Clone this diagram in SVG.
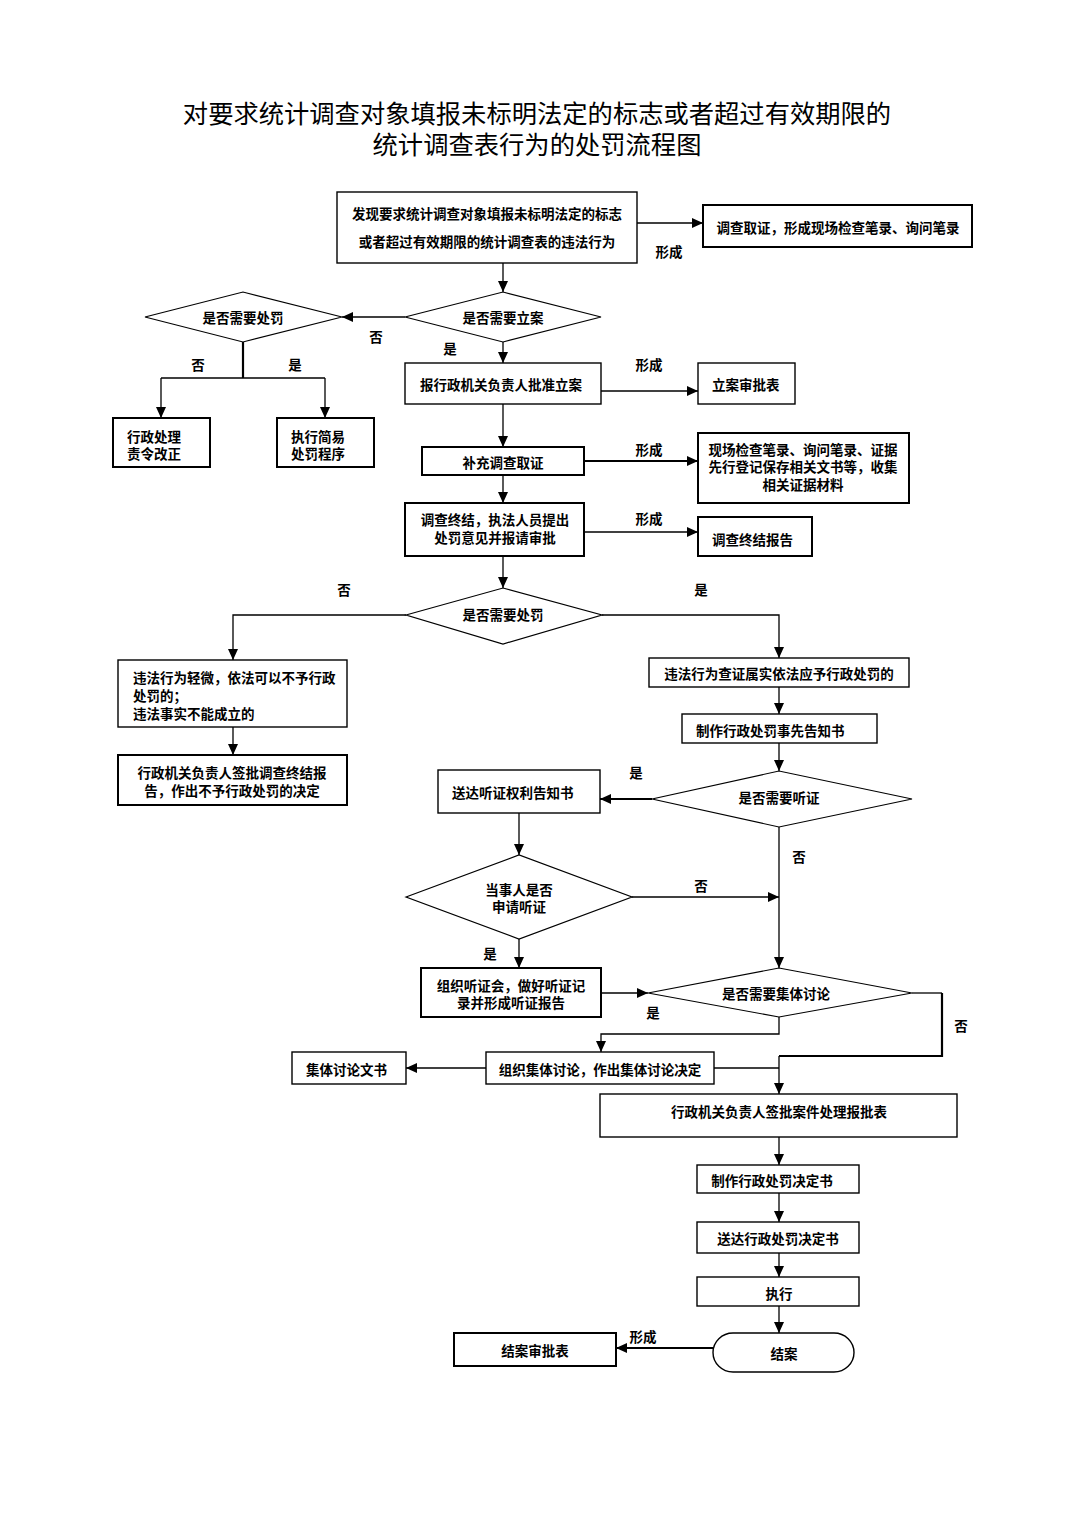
<svg xmlns="http://www.w3.org/2000/svg" width="1075" height="1520" viewBox="0 0 1075 1520">
<style>
.t{font-family:"Noto Sans CJK SC","Noto Sans",sans-serif;font-size:13.5px;font-weight:bold;fill:#000;dominant-baseline:central}
.m{text-anchor:middle}
.title{font-family:"Noto Sans CJK SC","Noto Sans",sans-serif;font-size:25.3px;fill:#000;text-anchor:middle}
.box{fill:#fff;stroke:#000;stroke-width:1.4}
.bx{fill:#fff;stroke:#000;stroke-width:2}
.dia{fill:#fff;stroke:#000;stroke-width:1.2}
.c{fill:none;stroke:#000;stroke-width:1.3}
.ck{fill:none;stroke:#000;stroke-width:2.2}
</style>
<defs>
<marker id="a" markerUnits="userSpaceOnUse" markerWidth="11" markerHeight="10" refX="11" refY="5" orient="auto">
<path d="M0,0 L11,5 L0,10 z" fill="#000"/>
</marker>
</defs>
<rect width="1075" height="1520" fill="#fff"/>
<text class="title"><tspan x="537" y="123">对要求统计调查对象填报未标明法定的标志或者超过有效期限的</tspan><tspan x="537" dy="31">统计调查表行为的处罚流程图</tspan></text>

<g id="connectors">
<path class="c" d="M637,223 H703" marker-end="url(#a)"/>
<path class="c" d="M503,263 V292" marker-end="url(#a)"/>
<path class="c" d="M405,317 H342" marker-end="url(#a)"/>
<path class="ck" d="M243,342 V378"/>
<path class="c" d="M161,378 H325"/>
<path class="c" d="M161,378 V418" marker-end="url(#a)"/>
<path class="c" d="M325,378 V418" marker-end="url(#a)"/>
<path class="c" d="M503,342 V363" marker-end="url(#a)"/>
<path class="c" d="M601,391 H698" marker-end="url(#a)"/>
<path class="c" d="M503,404 V447" marker-end="url(#a)"/>
<path class="ck" d="M584,461 H698" marker-end="url(#a)"/>
<path class="c" d="M503,475 V503" marker-end="url(#a)"/>
<path class="c" d="M584,532 H698" marker-end="url(#a)"/>
<path class="c" d="M503,556 V588" marker-end="url(#a)"/>
<path class="c" d="M406,615 H233 V660" marker-end="url(#a)"/>
<path class="c" d="M602,615 H779 V658" marker-end="url(#a)"/>
<path class="c" d="M233,727 V755" marker-end="url(#a)"/>
<path class="c" d="M779,687 V714" marker-end="url(#a)"/>
<path class="c" d="M779,743 V771" marker-end="url(#a)"/>
<path class="ck" d="M652,799 H600" marker-end="url(#a)"/>
<path class="c" d="M519,813 V855" marker-end="url(#a)"/>
<path class="c" d="M632,897 H779" marker-end="url(#a)"/>
<path class="c" d="M779,827 V968" marker-end="url(#a)"/>
<path class="c" d="M519,939 V968" marker-end="url(#a)"/>
<path class="c" d="M601,993 H648" marker-end="url(#a)"/>
<path class="c" d="M912,993 H942"/>
<path class="ck" d="M942,993 V1056 H779"/>
<path class="c" d="M779,1056 V1094" marker-end="url(#a)"/>
<path class="c" d="M779,1017 V1034 H601 V1052" marker-end="url(#a)"/>
<path class="c" d="M714,1068 H779"/>
<path class="c" d="M486,1068 H406" marker-end="url(#a)"/>
<path class="c" d="M779,1137 V1165" marker-end="url(#a)"/>
<path class="c" d="M779,1193 V1222" marker-end="url(#a)"/>
<path class="c" d="M779,1253 V1277" marker-end="url(#a)"/>
<path class="c" d="M779,1306 V1333" marker-end="url(#a)"/>
<path class="ck" d="M713,1348 H616" marker-end="url(#a)"/>
</g>

<g id="labels">
<text class="t m" x="669" y="251">形成</text>
<text class="t m" x="649" y="364">形成</text>
<text class="t m" x="649" y="449">形成</text>
<text class="t m" x="649" y="518">形成</text>
<text class="t m" x="643" y="1336">形成</text>
<text class="t m" x="376" y="336">否</text>
<text class="t m" x="198" y="364">否</text>
<text class="t m" x="295" y="364">是</text>
<text class="t m" x="450" y="348">是</text>
<text class="t m" x="344" y="589">否</text>
<text class="t m" x="701" y="589">是</text>
<text class="t m" x="636" y="772">是</text>
<text class="t m" x="799" y="856">否</text>
<text class="t m" x="701" y="885">否</text>
<text class="t m" x="490" y="953">是</text>
<text class="t m" x="653" y="1012">是</text>
<text class="t m" x="961" y="1025">否</text>
</g>

<g id="n1"><rect class="box" x="337" y="192" width="300" height="71"/>
<text class="t m" x="487" y="213">发现要求统计调查对象填报未标明法定的标志</text>
<text class="t m" x="487" y="241">或者超过有效期限的统计调查表的违法行为</text></g>
<g id="n2"><rect class="bx" x="703" y="205" width="269" height="42"/>
<text class="t m" x="838" y="227">调查取证，形成现场检查笔录、询问笔录</text></g>
<g id="d1"><polygon class="dia" points="405,317 503,292 601,317 503,342"/>
<text class="t m" x="503" y="317">是否需要立案</text></g>
<g id="d2"><polygon class="dia" points="145,317 243,292 342,317 243,342"/>
<text class="t m" x="243" y="317">是否需要处罚</text></g>
<g id="n3"><rect class="bx" x="113" y="418" width="97" height="49"/>
<text class="t" x="127" y="436">行政处理</text><text class="t" x="127" y="453">责令改正</text></g>
<g id="n4"><rect class="bx" x="277" y="418" width="97" height="49"/>
<text class="t" x="291" y="436">执行简易</text><text class="t" x="291" y="453">处罚程序</text></g>
<g id="n5"><rect class="box" x="405" y="363" width="196" height="41"/>
<text class="t" x="420" y="384">报行政机关负责人批准立案</text></g>
<g id="n6"><rect class="box" x="698" y="363" width="97" height="41"/>
<text class="t" x="712" y="384">立案审批表</text></g>
<g id="n7"><rect class="bx" x="422" y="447" width="162" height="28"/>
<text class="t m" x="503" y="462">补充调查取证</text></g>
<g id="n8"><rect class="bx" x="698" y="433" width="211" height="70"/>
<text class="t m" x="803" y="449">现场检查笔录、询问笔录、证据</text>
<text class="t m" x="803" y="466">先行登记保存相关文书等，收集</text>
<text class="t m" x="803" y="484">相关证据材料</text></g>
<g id="n9"><rect class="bx" x="405" y="503" width="179" height="53"/>
<text class="t m" x="495" y="519">调查终结，执法人员提出</text>
<text class="t m" x="495" y="537">处罚意见并报请审批</text></g>
<g id="n10"><rect class="bx" x="698" y="517" width="114" height="39"/>
<text class="t" x="712" y="539">调查终结报告</text></g>
<g id="d3"><polygon class="dia" points="406,615 503,588 602,615 503,644"/>
<text class="t m" x="503" y="614">是否需要处罚</text></g>
<g id="n11"><rect class="box" x="118" y="660" width="229" height="67"/>
<text class="t" x="133" y="677">违法行为轻微，依法可以不予行政</text>
<text class="t" x="133" y="695">处罚的；</text>
<text class="t" x="133" y="713">违法事实不能成立的</text></g>
<g id="n12"><rect class="bx" x="118" y="755" width="229" height="50"/>
<text class="t m" x="232" y="772">行政机关负责人签批调查终结报</text>
<text class="t m" x="232" y="790">告，作出不予行政处罚的决定</text></g>
<g id="n13"><rect class="box" x="649" y="658" width="260" height="29"/>
<text class="t m" x="779" y="673">违法行为查证属实依法应予行政处罚的</text></g>
<g id="n14"><rect class="box" x="682" y="714" width="195" height="29"/>
<text class="t" x="696" y="730">制作行政处罚事先告知书</text></g>
<g id="d4"><polygon class="dia" points="652,799 779,771 912,799 779,827"/>
<text class="t m" x="779" y="797">是否需要听证</text></g>
<g id="n15"><rect class="box" x="438" y="770" width="162" height="43"/>
<text class="t" x="452" y="792">送达听证权利告知书</text></g>
<g id="d5"><polygon class="dia" points="406,897 519,855 632,897 519,939"/>
<text class="t m" x="519" y="889">当事人是否</text>
<text class="t m" x="519" y="906">申请听证</text></g>
<g id="n16"><rect class="bx" x="421" y="968" width="180" height="49"/>
<text class="t m" x="511" y="985">组织听证会，做好听证记</text>
<text class="t m" x="511" y="1002">录并形成听证报告</text></g>
<g id="d6"><polygon class="dia" points="648,993 779,968 912,993 779,1017"/>
<text class="t m" x="776" y="993">是否需要集体讨论</text></g>
<g id="n17"><rect class="box" x="486" y="1052" width="228" height="32"/>
<text class="t m" x="600" y="1069">组织集体讨论，作出集体讨论决定</text></g>
<g id="n18"><rect class="box" x="292" y="1052" width="114" height="32"/>
<text class="t" x="306" y="1069">集体讨论文书</text></g>
<g id="n19"><rect class="box" x="600" y="1094" width="357" height="43"/>
<text class="t m" x="779" y="1111">行政机关负责人签批案件处理报批表</text></g>
<g id="n20"><rect class="box" x="697" y="1165" width="162" height="28"/>
<text class="t m" x="772" y="1180">制作行政处罚决定书</text></g>
<g id="n21"><rect class="box" x="697" y="1222" width="162" height="31"/>
<text class="t m" x="778" y="1238">送达行政处罚决定书</text></g>
<g id="n22"><rect class="box" x="697" y="1277" width="162" height="29"/>
<text class="t m" x="779" y="1293">执行</text></g>
<g id="n23"><rect class="box" x="713" y="1333" width="141" height="39" rx="20" ry="19.5"/>
<text class="t m" x="784" y="1353">结案</text></g>
<g id="n24"><rect class="bx" x="454" y="1333" width="162" height="33"/>
<text class="t m" x="535" y="1350">结案审批表</text></g>
</svg>
